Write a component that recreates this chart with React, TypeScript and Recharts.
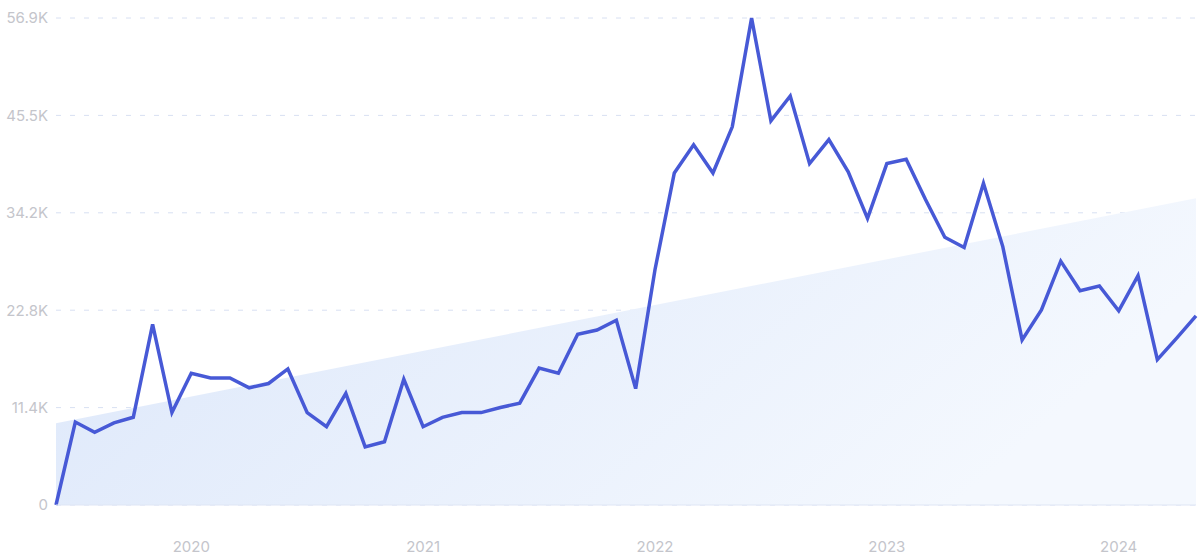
import { Area, CartesianGrid, ComposedChart, Line, XAxis, YAxis } from "recharts"

const months = [
  "2019-06", "2019-07", "2019-08", "2019-09", "2019-10", "2019-11", "2019-12",
  "2020-01", "2020-02", "2020-03", "2020-04", "2020-05", "2020-06", "2020-07", "2020-08", "2020-09", "2020-10", "2020-11", "2020-12",
  "2021-01", "2021-02", "2021-03", "2021-04", "2021-05", "2021-06", "2021-07", "2021-08", "2021-09", "2021-10", "2021-11", "2021-12",
  "2022-01", "2022-02", "2022-03", "2022-04", "2022-05", "2022-06", "2022-07", "2022-08", "2022-09", "2022-10", "2022-11", "2022-12",
  "2023-01", "2023-02", "2023-03", "2023-04", "2023-05", "2023-06", "2023-07", "2023-08", "2023-09", "2023-10", "2023-11", "2023-12",
  "2024-01", "2024-02", "2024-03", "2024-04", "2024-05",
]

const searches = [
  0, 9700, 8500, 9600, 10250, 21100, 10800, 15400, 14850, 14850,
  13700, 14200, 15900, 10800, 9150, 13050, 6800, 7400, 14700, 9150,
  10250, 10800, 10800, 11400, 11900, 16000, 15400, 19950, 20450, 21600,
  13600, 27500, 38800, 42100, 38800, 44200, 56900, 44900, 47800, 39900,
  42700, 38950, 33500, 39900, 40400, 35700, 31300, 30100, 37600, 30200,
  19300, 22800, 28500, 25050, 25600, 22700, 26800, 17000, 19500, 22100,
]

// trend line: only the two ends are known, the library joins them
const trendStart = 9550
const trendEnd = 35850

const yearTicks = ["2020-01", "2021-01", "2022-01", "2023-01", "2024-01"]
const valueTicks = [0, 11384, 22768, 34152, 45536, 56920]

const data = months.map((m, i) => ({
  month: m,
  searches: searches[i],
  trend: i === 0 ? trendStart : i === months.length - 1 ? trendEnd : null,
}))

const fmtK = (v: number) => (v === 0 ? "0" : (v / 1000).toFixed(1) + "K")

export default function App() {
  return (
    <div style={{ position: "absolute", left: 0, top: 0 }}>
      <ComposedChart
        width={1200}
        height={558}
        data={data}
        margin={{ top: 18, right: 4, bottom: 0, left: 0 }}
        style={{ fontFamily: "Inter, sans-serif" }}
      >
        <defs>
          <linearGradient id="trendFill" x1="0" y1="0" x2="1" y2="0.3">
            <stop offset="0%" stopColor="#dce7fa" />
            <stop offset="100%" stopColor="#f4f8fe" />
          </linearGradient>
        </defs>
        <CartesianGrid vertical={false} stroke="#d8e0f2" strokeDasharray="5 9" />
        <XAxis
          dataKey="month"
          ticks={yearTicks}
          interval={0}
          tickFormatter={(v: string) => v.slice(0, 4)}
          height={53}
          tickLine={false}
          tickMargin={30}
          axisLine={{ stroke: "#dfe6f5" }}
          tick={{ fill: "#c4c5cb", fontSize: 15 }}
        />
        <YAxis
          domain={[0, 56920]}
          ticks={valueTicks}
          tickFormatter={fmtK}
          width={56}
          axisLine={false}
          tickLine={false}
          tick={{ fill: "#c4c5cb", fontSize: 15 }}
        />
        <Area
          type="linear"
          dataKey="trend"
          connectNulls
          stroke="none"
          fill="url(#trendFill)"
          fillOpacity={1}
          isAnimationActive={false}
          dot={false}
          activeDot={false}
        />
        <Line
          type="linear"
          dataKey="searches"
          stroke="#4759d6"
          strokeWidth={3.5}
          dot={false}
          activeDot={false}
          isAnimationActive={false}
        />
      </ComposedChart>
    </div>
  )
}
